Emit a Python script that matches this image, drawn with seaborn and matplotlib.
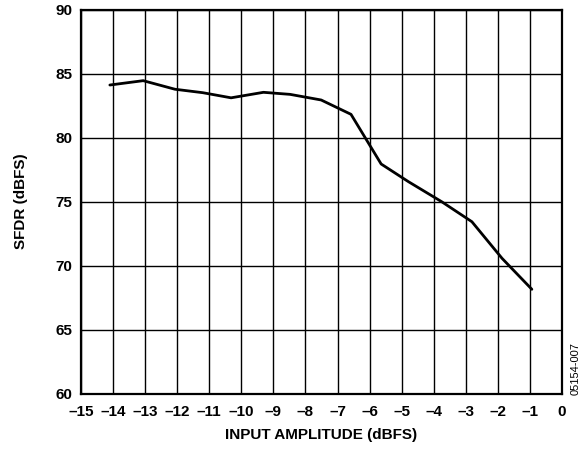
import matplotlib
matplotlib.use("Agg")
import matplotlib.pyplot as plt
import seaborn as sns
import pandas as pd

# Values
amplitude = [-14.1, -13.06, -12.07, -11.2, -10.32, -9.31, -8.48, -7.51, -6.58,
             -5.64, -4.79, -3.75, -2.81, -1.87, -0.94]
sfdr = [84.1, 84.44, 83.77, 83.5, 83.1, 83.53, 83.37, 82.93, 81.81,
        77.93, 76.55, 74.98, 73.42, 70.56, 68.14]

x_ticks = list(range(-15, 1))
y_ticks = list(range(60, 91, 5))


def fmt(v):
    return str(v).replace("-", "\u2013")


def main():
    sns.set_style("white")
    plt.rcParams["font.family"] = ["Liberation Sans", "DejaVu Sans"]
    plt.rcParams["font.weight"] = "bold"
    plt.rcParams["text.color"] = "black"
    plt.rcParams["axes.labelcolor"] = "black"
    plt.rcParams["xtick.color"] = "black"
    plt.rcParams["ytick.color"] = "black"

    df = pd.DataFrame({"amp": amplitude, "sfdr": sfdr})

    fig = plt.figure(figsize=(5.88, 4.49), dpi=100)
    ax = fig.add_axes([81 / 588, 1 - 393.5 / 449, 481 / 588, 384 / 449])

    sns.lineplot(data=df, x="amp", y="sfdr", color="black", linewidth=2.0,
                 ax=ax, sort=False)

    ax.set_xlim(-15, 0)
    ax.set_ylim(60, 90)
    ax.set_xticks(x_ticks)
    ax.set_xticklabels([fmt(v) for v in x_ticks])
    ax.set_yticks(y_ticks)
    ax.set_yticklabels([fmt(v) for v in y_ticks])
    ax.grid(True, color="black", linewidth=1.0)
    ax.tick_params(axis="x", length=0, labelsize=11, pad=8)
    ax.tick_params(axis="y", length=0, labelsize=11, pad=6)
    for s in ax.spines.values():
        s.set_color("black")
        s.set_linewidth(1.6)

    ax.set_xlabel("INPUT AMPLITUDE (dBFS)", fontsize=11, fontweight="bold", labelpad=7)
    ax.set_ylabel("SFDR (dBFS)", fontsize=11, fontweight="bold", labelpad=20)

    fig.text(576 / 588, 1 - 368.5 / 449, "05154-007", rotation=90, fontsize=8,
             fontweight="normal", ha="center", va="center")

    fig.savefig("out.png", dpi=100)
    plt.close(fig)


if __name__ == "__main__":
    main()
